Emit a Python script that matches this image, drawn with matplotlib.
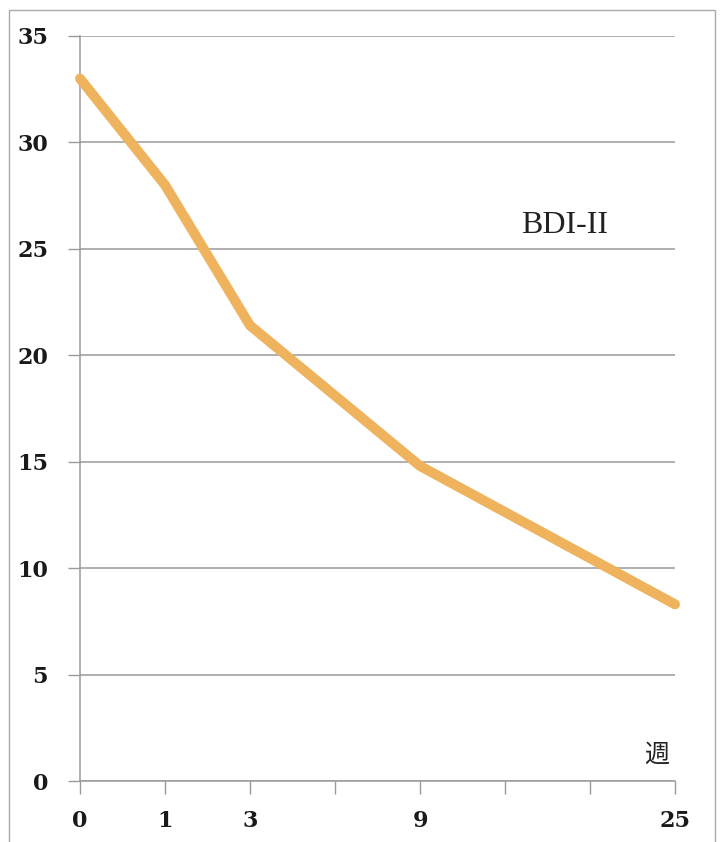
import numpy as np
import matplotlib
matplotlib.use("Agg")
import matplotlib.pyplot as plt
from matplotlib.patches import Rectangle

# BDI-II score over the weeks of treatment
week_labels = ["0", "1", "3", "", "9", "", "", "25"]
weeks = ["0", "1", "3", "9", "25"]
bdi_scores = [33.0, 28.0, 21.4, 14.8, 8.3]
y_ticks = [0, 5, 10, 15, 20, 25, 30, 35]

serif = ["Liberation Serif", "DejaVu Serif"]
cjk = ["Noto Sans CJK JP", "DejaVu Sans"]
grey = "#9a9a9a"

fig = plt.figure(figsize=(7.25, 8.42), dpi=100)
ax = fig.add_axes([80 / 725, 1 - 781 / 842, 595 / 725, 745 / 842])

# slot of each measured week along the category axis
slots = [week_labels.index(w) for w in weeks]
ax.plot(slots, bdi_scores, color="#efb35e", lw=7.2, solid_capstyle="round",
        solid_joinstyle="round", clip_on=False, zorder=3)

ax.set_xlim(0, len(week_labels) - 1)
ax.set_ylim(0, 35)
ax.set_xticks(range(len(week_labels)))
ax.set_xticklabels(week_labels)
ax.set_yticks(y_ticks)
ax.set_yticklabels([str(v) for v in y_ticks])

for lab in ax.get_xticklabels() + ax.get_yticklabels():
    lab.set_family("DejaVu Serif")
    lab.set_fontsize(16)
    lab.set_fontweight("bold")
    lab.set_color("#1a1a1a")

ax.tick_params(axis="y", length=9, width=1, color=grey, pad=14)
ax.tick_params(axis="x", length=9, width=1, color=grey, pad=12)
ax.grid(axis="y", color=grey, lw=1.1)
ax.set_axisbelow(True)
for side in ["top", "right"]:
    ax.spines[side].set_visible(False)
for side in ["left", "bottom"]:
    ax.spines[side].set_color(grey)
    ax.spines[side].set_linewidth(1.1)

ax.text(5.7, 26.1, "BDI-II", family=serif, fontsize=23, ha="center", va="center",
        color="#222222")
ax.text(6.78, 1.25, "週", family=cjk, fontsize=18, ha="center", va="center",
        color="#222222")

# outer frame around the chart
fig.patches.append(Rectangle((9 / 725, -0.05), 706 / 725, 1.05 - 10 / 842,
                             transform=fig.transFigure, fill=False,
                             edgecolor="#aaaaaa", lw=1))

fig.savefig("out.png", dpi=100)
